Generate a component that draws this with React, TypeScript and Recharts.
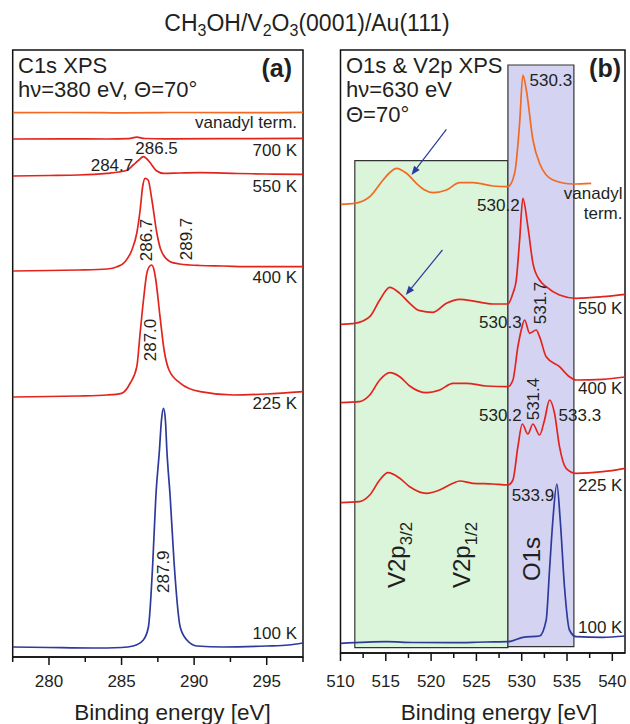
import React from "react";
import {
  LineChart,
  Line,
  XAxis,
  YAxis,
  ReferenceArea,
  ReferenceDot,
  ReferenceLine,
} from "recharts";

const FONT = '"Liberation Sans", Arial, Helvetica, sans-serif';
const INK = "#231f20";
const ORANGE = "#f26a22";
const RED = "#e3241d";
const BLUE = "#2d3a9c";

// ---------------------------------------------------------------------------
// Data: [binding energy (eV), stacked intensity (a.u.)]
// ---------------------------------------------------------------------------

const c1sTicks = [277.5, 280, 282.5, 285, 287.5, 290, 292.5, 295, 297.5];
const o1sTicks = [510, 512.5, 515, 517.5, 520, 522.5, 525, 527.5, 530, 532.5, 535, 537.5, 540];

const c1sVanadyl = [
  [277.5, 542.3], [281, 542.5], [285, 542.2], [289, 542.5], [293, 542.3], [297.5, 542.6],
];
const c1s700K = [
  [277.5, 516], [281, 516.2], [284, 516], [285.5, 516.4], [286.05, 517.8], [286.6, 516.5],
  [288, 516.2], [292, 516.3], [297.5, 516.6],
];
const c1s550K = [
  [277.5, 479], [280, 479.5], [282, 480], [284, 481.7], [284.8, 483], [285.4, 485],
  [285.8, 490], [286.2, 495], [286.5, 498.3], [286.75, 496], [287.0, 491.7], [287.4, 484.3],
  [287.9, 481.7], [289, 482], [290.4, 482.3], [293, 481.5], [295, 481], [297.5, 480.7],
];
const c1s400K = [
  [277.5, 384], [280, 384.5], [282, 385], [284, 386], [284.7, 388.3], [285.24, 393.3],
  [285.71, 405], [286.05, 422], [286.28, 445], [286.45, 468], [286.62, 476.7], [286.83, 475],
  [287.09, 455], [287.43, 422], [287.71, 405], [288.35, 393.3], [289, 391], [289.7, 390],
  [290.4, 389.5], [292, 389], [294, 388.3], [297.5, 388.3],
];
const c1s225K = [
  [277.5, 258], [280, 258.5], [282, 259], [284, 260], [285.0, 261.7], [285.6, 272],
  [286.05, 288.3], [286.28, 322], [286.51, 355], [286.74, 381.7], [286.95, 389], [287.09, 390],
  [287.2, 387], [287.36, 375], [287.65, 338.3], [287.93, 305], [288.27, 285], [289.06, 271.7],
  [290.42, 263.3], [292.7, 260], [295, 261], [297.5, 263.3],
];
const c1s100K = [
  [277.5, 8], [280, 7.5], [283, 7], [285, 7.5], [285.8, 9], [286.5, 15], [286.85, 28],
  [287.15, 92], [287.36, 158], [287.61, 205], [287.75, 235], [287.89, 246.7], [288.02, 235],
  [288.12, 205], [288.35, 158], [288.62, 92], [289.04, 28], [289.5, 15], [290.2, 9],
  [292, 8], [295, 9], [296.5, 10], [297.5, 12],
];

const o1sVanadyl = [
  [510, 448.7], [511.58, 449.7], [513.23, 456.3], [514.7, 473], [515.5, 481], [516.17, 484.7],
  [517.28, 479.7], [518.38, 469.7], [519.3, 463], [520.21, 460.3], [521.69, 463], [523.15, 470.3],
  [524.62, 470.3], [526.82, 467], [528.48, 466.3], [529.22, 479.7], [529.77, 529.7], [530.13, 578],
  [530.51, 563], [531.24, 513], [531.97, 489.7], [533.44, 473], [535.65, 469], [537.67, 469.7],
];
const o1s550K = [
  [510, 328.7], [511.58, 329.7], [513.23, 336.3], [514.33, 353], [515.43, 365.7], [516.54, 359.7],
  [517.64, 349.7], [518.74, 342.3], [520.21, 340.7], [521.69, 349.7], [523.15, 353.7], [524.99, 351.3],
  [526.82, 349], [528.48, 349], [529.03, 359.7], [529.4, 373], [529.77, 413], [530.13, 454.7],
  [530.68, 426.3], [531.24, 389.7], [531.97, 373], [532.7, 366.3], [534.17, 358], [536.0, 354.7],
  [538.94, 356.3], [541.4, 358.7],
];
const o1s400K = [
  [510, 250.3], [512.1, 251.3], [513.23, 258], [514.33, 273], [515.43, 280.3], [516.54, 276.3],
  [517.64, 267], [519.48, 260.3], [520.94, 263], [522.41, 269.7], [523.88, 269.7], [526.08, 267],
  [528.48, 266.3], [529.03, 273], [529.58, 306.3], [529.95, 323], [530.32, 333], [530.87, 319.7],
  [531.6, 323], [531.97, 316.3], [532.7, 296.3], [534.17, 286.3], [535.27, 276.3], [536.0, 273],
  [538.94, 273.7], [541.4, 276],
];
const o1s225K = [
  [510, 150.3], [512.1, 151.3], [513.23, 158], [514.33, 173], [515.25, 180.3], [516.54, 174.7],
  [517.64, 166.3], [519.48, 159.7], [520.94, 163], [522.41, 169.7], [523.15, 172], [524.62, 169.7],
  [526.82, 169], [528.48, 168], [529.03, 173], [529.58, 206.3], [530.06, 229], [530.68, 219],
  [531.24, 229], [531.97, 218], [532.52, 233], [533.07, 253], [533.62, 239.7], [534.17, 206.3],
  [534.9, 184.7], [536.0, 179.7], [538.94, 181.3], [541.4, 184.7],
];
const o1s100K = [
  [510, 9.7], [515.07, 11.3], [518, 10.5], [522.41, 10.3], [526, 11], [528.48, 11.3],
  [530.13, 15.7], [531.97, 17], [532.7, 33], [533.07, 83], [533.44, 133], [533.88, 169],
  [534.25, 133], [534.72, 66.3], [535.27, 23], [536.0, 16.3], [538.94, 15.7], [541.4, 17],
];

const toPts = (rows: number[][]) => rows.map(([e, i]) => ({ e, i }));

const c1sSeries = [
  { name: "vanadyl", rows: c1sVanadyl, color: ORANGE },
  { name: "700K", rows: c1s700K, color: RED },
  { name: "550K", rows: c1s550K, color: RED },
  { name: "400K", rows: c1s400K, color: RED },
  { name: "225K", rows: c1s225K, color: RED },
  { name: "100K", rows: c1s100K, color: BLUE },
];
const o1sSeries = [
  { name: "vanadyl", rows: o1sVanadyl, color: ORANGE },
  { name: "550K", rows: o1s550K, color: RED },
  { name: "400K", rows: o1s400K, color: RED },
  { name: "225K", rows: o1s225K, color: RED },
  { name: "100K", rows: o1s100K, color: BLUE },
];

// ---------------------------------------------------------------------------
// Annotations
// ---------------------------------------------------------------------------

type Note = {
  e: number;
  i: number;
  text: string;
  sub?: string;
  anchor?: "start" | "middle" | "end";
  rotate?: boolean;
  size?: number;
};

const c1sNotes: Note[] = [
  { e: 297.09, i: 533.3, text: "vanadyl term.", anchor: "end" },
  { e: 297.09, i: 505, text: "700 K", anchor: "end" },
  { e: 297.09, i: 469, text: "550 K", anchor: "end" },
  { e: 297.09, i: 378, text: "400 K", anchor: "end" },
  { e: 297.09, i: 252.3, text: "225 K", anchor: "end" },
  { e: 297.09, i: 22.3, text: "100 K", anchor: "end" },
  { e: 284.34, i: 490, text: "284.7" },
  { e: 287.41, i: 507, text: "286.5" },
  { e: 286.69, i: 415, text: "286.7", rotate: true },
  { e: 289.45, i: 416, text: "289.7", rotate: true },
  { e: 286.96, i: 315, text: "287.0", rotate: true },
  { e: 287.86, i: 83.3, text: "287.9", rotate: true },
];

const o1sNotes: Note[] = [
  { e: 530.87, i: 573, text: "530.3", anchor: "start" },
  { e: 541.12, i: 460, text: "vanadyl", anchor: "end" },
  { e: 541.12, i: 440, text: "term.", anchor: "end" },
  { e: 529.77, i: 448, text: "530.2", anchor: "end" },
  { e: 541.12, i: 345, text: "550 K", anchor: "end" },
  { e: 529.99, i: 331.3, text: "530.3", anchor: "end" },
  { e: 531.97, i: 350, text: "531.7", rotate: true },
  { e: 541.12, i: 265, text: "400 K", anchor: "end" },
  { e: 529.99, i: 238, text: "530.2", anchor: "end" },
  { e: 531.2, i: 254, text: "531.4", rotate: true },
  { e: 534.07, i: 238, text: "533.3", anchor: "start" },
  { e: 541.12, i: 168, text: "225 K", anchor: "end" },
  { e: 528.89, i: 158, text: "533.9", anchor: "start" },
  { e: 541.12, i: 26, text: "100 K", anchor: "end" },
  { e: 516.2, i: 98, text: "V2p", sub: "3/2", rotate: true, size: 24 },
  { e: 523.37, i: 98, text: "V2p", sub: "1/2", rotate: true, size: 24 },
  { e: 531.1, i: 94, text: "O1s", rotate: true, size: 24 },
];

const o1sArrows = [
  [{ x: 521.69, y: 523.7 }, { x: 517.83, y: 478 }],
  [{ x: 521.25, y: 403 }, { x: 517.2, y: 358 }],
];

// ---------------------------------------------------------------------------
// Pieces
// ---------------------------------------------------------------------------

function NoteText({ cx, cy, note }: { cx: number; cy: number; note: Note }) {
  const size = note.size ?? 17;
  return (
    <text
      x={cx}
      y={cy}
      dy="0.36em"
      textAnchor={note.anchor ?? "middle"}
      fontSize={size}
      fill={INK}
      fontFamily={FONT}
      transform={note.rotate ? `rotate(-90 ${cx} ${cy})` : undefined}
    >
      {note.text}
      {note.sub && (
        <tspan fontSize={size * 0.7} dy={size * 0.28}>
          {note.sub}
        </tspan>
      )}
    </text>
  );
}

function EnergyTick(props: any) {
  const { x, y, payload, labelDy } = props;
  const major = payload.value % 5 === 0;
  return (
    <g>
      <line x1={x} y1={y} x2={x} y2={y + (major ? 8 : 5)} stroke="#111" strokeWidth={1.5} />
      {major && (
        <text x={x} y={y + labelDy} textAnchor="middle" fontSize={17} fill={INK} fontFamily={FONT}>
          {payload.value}
        </text>
      )}
    </g>
  );
}

function Arrow(props: any) {
  const { x1, y1, x2, y2 } = props;
  const a = Math.atan2(y2 - y1, x2 - x1);
  const len = 9;
  const w = 3.5;
  const bx = x2 - len * Math.cos(a);
  const by = y2 - len * Math.sin(a);
  const px = -Math.sin(a) * w;
  const py = Math.cos(a) * w;
  return (
    <g>
      <line x1={x1} y1={y1} x2={bx} y2={by} stroke={BLUE} strokeWidth={1.2} />
      <polygon points={`${x2},${y2} ${bx + px},${by + py} ${bx - px},${by - py}`} fill={BLUE} />
    </g>
  );
}

const renderNotes = (notes: Note[]) =>
  notes.map((n, k) => (
    <ReferenceDot
      key={`note-${k}`}
      x={n.e}
      y={n.i}
      r={0}
      ifOverflow="visible"
      shape={(p: any) => <NoteText cx={p.cx} cy={p.cy} note={n} />}
    />
  ));

// ---------------------------------------------------------------------------
// Chart
// ---------------------------------------------------------------------------

export default function App() {
  const c1sDomain: [number, number] = [277.5, 297.5];
  const c1sY: [number, number] = [-2, 605];
  const o1sDomain: [number, number] = [510, 541.4];
  const o1sY: [number, number] = [0, 603];

  return (
    <div
      style={{
        position: "absolute",
        left: 0,
        top: 0,
        width: 630,
        height: 724,
        background: "#fff",
        fontFamily: FONT,
        color: INK,
      }}
    >
      {/* panel (a) */}
      <div style={{ position: "absolute", left: 0, top: 0 }}>
        <LineChart width={320} height={724} margin={{ top: 50, right: 17, bottom: 0, left: 12.7 }}>
          <XAxis
            dataKey="e"
            type="number"
            domain={c1sDomain}
            allowDataOverflow
            ticks={c1sTicks}
            interval={0}
            height={67}
            tickSize={0}
            tickMargin={0}
            tickLine={false}
            axisLine={{ stroke: "#111", strokeWidth: 1.5 }}
            tick={(p: any) => <EnergyTick {...p} labelDy={30} />}
          />
          <YAxis hide type="number" domain={c1sY} allowDataOverflow />
          <ReferenceArea
            x1={c1sDomain[0]}
            x2={c1sDomain[1]}
            y1={c1sY[0]}
            y2={c1sY[1]}
            fill="none"
            stroke="#111"
            strokeWidth={1.5}
          />
          {c1sSeries.map((s) => (
            <Line
              key={s.name}
              data={toPts(s.rows)}
              dataKey="i"
              type="monotone"
              stroke={s.color}
              strokeWidth={1.7}
              dot={false}
              isAnimationActive={false}
            />
          ))}
          {renderNotes(c1sNotes)}
        </LineChart>
      </div>

      {/* panel (b) */}
      <div style={{ position: "absolute", left: 320, top: 0 }}>
        <LineChart width={310} height={724} margin={{ top: 50, right: 5, bottom: 0, left: 20.5 }}>
          <XAxis
            dataKey="e"
            type="number"
            domain={o1sDomain}
            allowDataOverflow
            ticks={o1sTicks}
            interval={0}
            height={71}
            tickSize={0}
            tickMargin={0}
            tickLine={false}
            axisLine={{ stroke: "#111", strokeWidth: 1.5 }}
            tick={(p: any) => <EnergyTick {...p} labelDy={34} />}
          />
          <YAxis hide type="number" domain={o1sY} allowDataOverflow />
          <ReferenceArea
            x1={511.58}
            x2={528.48}
            y1={5.3}
            y2={492.3}
            fill="#dbf5db"
            fillOpacity={1}
            stroke="#333"
            strokeWidth={1.2}
          />
          <ReferenceArea
            x1={528.48}
            x2={535.76}
            y1={6.3}
            y2={588}
            fill="#d4d4f2"
            fillOpacity={1}
            stroke="#333"
            strokeWidth={1.2}
          />
          <ReferenceArea
            x1={o1sDomain[0]}
            x2={o1sDomain[1]}
            y1={o1sY[0]}
            y2={o1sY[1]}
            fill="none"
            stroke="#111"
            strokeWidth={1.5}
          />
          {o1sSeries.map((s) => (
            <Line
              key={s.name}
              data={toPts(s.rows)}
              dataKey="i"
              type="monotone"
              stroke={s.color}
              strokeWidth={1.7}
              dot={false}
              isAnimationActive={false}
            />
          ))}
          {o1sArrows.map((seg, k) => (
            <ReferenceLine key={`arrow-${k}`} segment={seg} shape={(p: any) => <Arrow {...p} />} />
          ))}
          {renderNotes(o1sNotes)}
        </LineChart>
      </div>

      {/* titles */}
      <svg
        width={630}
        height={724}
        style={{ position: "absolute", left: 0, top: 0, pointerEvents: "none" }}
        fontFamily={FONT}
        fill={INK}
      >
        <text x={307} y={31} textAnchor="middle" fontSize={23}>
          CH<tspan fontSize={16} dy={5}>3</tspan>
          <tspan dy={-5}>OH/V</tspan>
          <tspan fontSize={16} dy={5}>2</tspan>
          <tspan dy={-5}>O</tspan>
          <tspan fontSize={16} dy={5}>3</tspan>
          <tspan dy={-5}>(0001)/Au(111)</tspan>
        </text>

        <text x={18} y={72.7} fontSize={22}>C1s XPS</text>
        <text x={18} y={96.5} fontSize={22}>hν=380 eV, Θ=70°</text>
        <text x={292} y={76.5} fontSize={25} fontWeight="bold" textAnchor="end">(a)</text>

        <text x={346} y={73} fontSize={22}>O1s &amp; V2p XPS</text>
        <text x={346} y={96.7} fontSize={22}>hν=630 eV</text>
        <text x={346} y={121.7} fontSize={22}>Θ=70°</text>
        <text x={621} y={76.5} fontSize={25} fontWeight="bold" textAnchor="end">(b)</text>

        <text x={172.5} y={720} fontSize={22.5} textAnchor="middle">Binding energy [eV]</text>
        <text x={499} y={720} fontSize={22.5} textAnchor="middle">Binding energy [eV]</text>
      </svg>
    </div>
  );
}
